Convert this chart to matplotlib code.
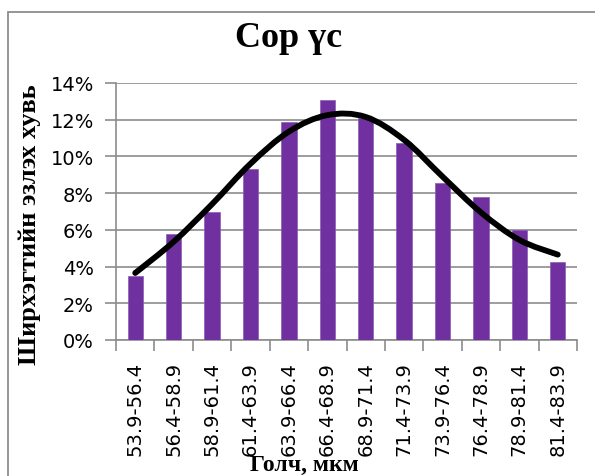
import matplotlib
matplotlib.use("Agg")
import matplotlib.pyplot as plt
from matplotlib.path import Path
from matplotlib.patches import PathPatch, Rectangle
from matplotlib.ticker import PercentFormatter, FixedLocator

categories = ["53.9-56.4", "56.4-58.9", "58.9-61.4", "61.4-63.9", "63.9-66.4", "66.4-68.9",
              "68.9-71.4", "71.4-73.9", "73.9-76.4", "76.4-78.9", "78.9-81.4", "81.4-83.9"]
bar_values = [3.5, 5.8, 7.0, 9.3, 11.9, 13.1, 12.1, 10.75, 8.55, 7.8, 6.0, 4.27]
curve_values = [3.65, 5.35, 7.4, 9.6, 11.35, 12.25, 12.15, 10.9, 8.9, 6.95, 5.45, 4.65]

title = "Сор үс"
xlabel = "Голч, мкм"
ylabel = "Ширхэгтийн эзлэх хувь"

W, H = 595, 477
fig = plt.figure(figsize=(W / 100, H / 100), dpi=100)

# outer chart frame
fig.patches.append(Rectangle((8 / W, -0.05), 1.2, (H - 13) / H + 0.05, transform=fig.transFigure,
                             fill=False, edgecolor="#8c8c8c", linewidth=1.3))

ax = fig.add_axes([116 / W, (H - 341) / H, (577 - 116) / W, (341 - 84) / H])
x = list(range(len(categories)))
ax.bar(x, [v / 100 for v in bar_values], width=0.4, color="#7030A0", edgecolor="#8a5bb5",
       linewidth=0.5, zorder=3)

# smooth curve through data points (Bezier segments)
pts = [(xi, v / 100) for xi, v in zip(x, curve_values)]
verts = [pts[0]]
codes = [Path.MOVETO]
n = len(pts)
for i in range(n - 1):
    p0 = pts[i - 1] if i > 0 else pts[i]
    p1 = pts[i]
    p2 = pts[i + 1]
    p3 = pts[i + 2] if i + 2 < n else pts[i + 1]
    c1 = (p1[0] + (p2[0] - p0[0]) / 6, p1[1] + (p2[1] - p0[1]) / 6)
    c2 = (p2[0] - (p3[0] - p1[0]) / 6, p2[1] - (p3[1] - p1[1]) / 6)
    verts += [c1, c2, p2]
    codes += [Path.CURVE4] * 3
patch = PathPatch(Path(verts, codes), facecolor="none", edgecolor="black", linewidth=4.2,
                  capstyle="round", joinstyle="round", zorder=4)
ax.add_patch(patch)

ax.set_xlim(-0.5, len(categories) - 0.5)
ax.set_ylim(0, 0.14)
ax.set_yticks([i / 100 for i in range(0, 15, 2)])
ax.yaxis.set_major_formatter(PercentFormatter(1.0, decimals=0))
ax.grid(axis="y", color="#8c8c8c", linewidth=1.2, zorder=0)
ax.set_axisbelow(True)

ax.set_xticks(x)
ax.set_xticklabels(categories, rotation=90, fontsize=14, family="DejaVu Sans")
ax.xaxis.set_minor_locator(FixedLocator([i - 0.5 for i in range(len(categories) + 1)]))
ax.tick_params(axis="x", which="major", length=0, pad=15)
ax.tick_params(axis="x", which="minor", length=8, color="#8c8c8c", width=1.2)
ax.tick_params(axis="y", length=8, color="#8c8c8c", width=1.2, labelsize=14, pad=8)
for lab in ax.get_yticklabels():
    lab.set_family("DejaVu Sans")

for s in ["top", "right"]:
    ax.spines[s].set_visible(False)
for s in ["left", "bottom"]:
    ax.spines[s].set_color("#8c8c8c")
    ax.spines[s].set_linewidth(1.2)

fig.text(289 / W, (H - 47) / H, title, ha="center", va="baseline", fontsize=26,
         fontweight="bold", family="Liberation Serif")
fig.text(304 / W, 1 / H, xlabel, ha="center", va="bottom", fontsize=17,
         fontweight="bold", family="Liberation Serif")
fig.text(30 / W, (H - 225) / H, ylabel, ha="center", va="center", rotation=90, fontsize=19,
         fontweight="bold", family="Liberation Serif")

fig.savefig("out.png", dpi=100)
